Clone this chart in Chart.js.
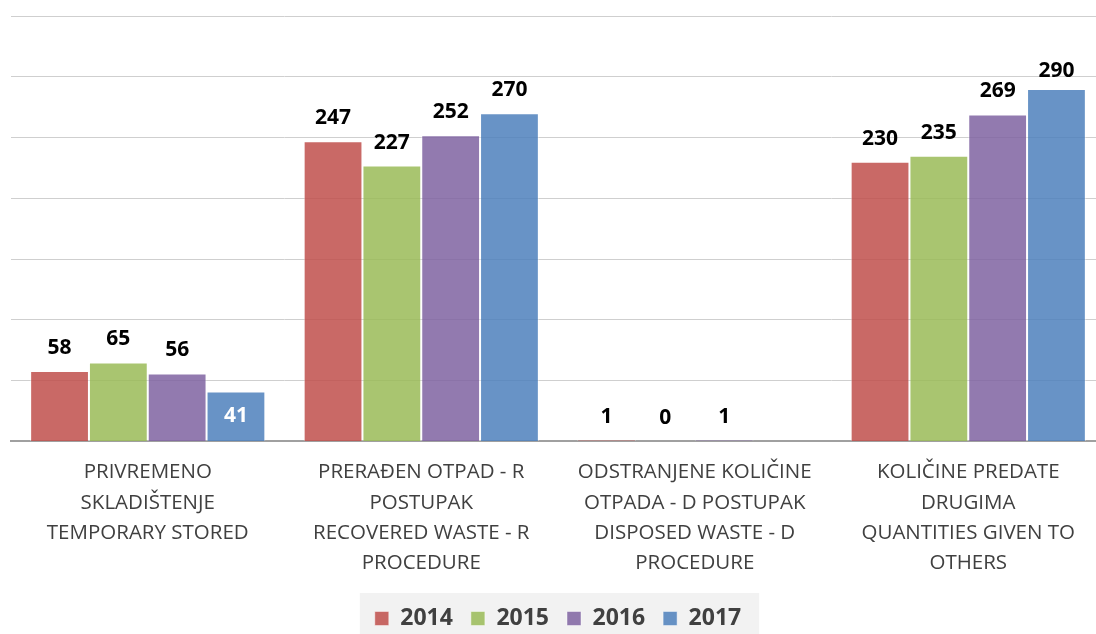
<!DOCTYPE html>
<html>
<head>
<meta charset="utf-8">
<script src="https://cdn.jsdelivr.net/npm/chart.js@4.4.1/dist/chart.umd.min.js"></script>
<style>
  html, body { margin: 0; padding: 0; background: #fff; overflow: hidden; }
  #wrap { width: 1106px; height: 634px; }
</style>
</head>
<body>
<div id="wrap"><canvas id="c" width="1106" height="634"></canvas></div>
<script>
// categories (multi-line, Serbian + English)
const categories = [
    ["PRIVREMENO", "SKLADIŠTENJE", "TEMPORARY STORED"],
    ["PRERAĐEN OTPAD - R", "POSTUPAK", "RECOVERED WASTE - R", "PROCEDURE"],
    ["ODSTRANJENE KOLIČINE", "OTPADA - D POSTUPAK", "DISPOSED WASTE - D", "PROCEDURE"],
    ["KOLIČINE PREDATE", "DRUGIMA", "QUANTITIES GIVEN TO", "OTHERS"]
];
const years = ["2014", "2015", "2016", "2017"];
const values2014 = [58, 247, 1, 230];
const values2015 = [65, 227, 0, 235];
const values2016 = [56, 252, 1, 269];
const values2017 = [41, 270, null, 290];

const colors = ["rgba(192,80,77,0.86)", "rgba(155,187,89,0.86)", "rgba(128,100,162,0.86)", "rgba(79,129,189,0.86)"];

// label drawn inside the bar in white (dataset, index)
const insideLabels = [[3, 0]];

const valueLabels = {
    id: 'valueLabels',
    afterDatasetsDraw(chart) {
        const ctx = chart.ctx;
        ctx.save();
        ctx.font = "bold 21px 'Open Sans'";
        ctx.textAlign = 'center';
        chart.data.datasets.forEach((ds, di) => {
            chart.getDatasetMeta(di).data.forEach((bar, i) => {
                const v = ds.data[i];
                if (v === null || v === undefined) return;
                const inside = insideLabels.some(p => p[0] === di && p[1] === i);
                if (inside) {
                    ctx.fillStyle = '#fff';
                    ctx.textBaseline = 'middle';
                    ctx.fillText(v, bar.x, (bar.y + bar.base) / 2);
                } else {
                    ctx.fillStyle = '#000';
                    ctx.textBaseline = 'alphabetic';
                    ctx.fillText(v, bar.x, Math.max(bar.y - 17, 77));
                }
            });
        });
        ctx.restore();
    }
};

const legendBg = {
    id: 'legendBg',
    beforeDraw(chart) {
        const boxes = chart.legend.legendHitBoxes;
        if (!boxes || !boxes.length) return;
        const left = boxes[0].left - 15;
        const last = boxes[boxes.length - 1];
        const right = last.left + last.width + 18;
        const ctx = chart.ctx;
        ctx.save();
        ctx.fillStyle = '#f2f2f2';
        ctx.fillRect(left, 593, right - left, 41);
        ctx.restore();
    }
};

new Chart(document.getElementById('c'), {
    type: 'bar',
    data: {
        labels: categories,
        datasets: [values2014, values2015, values2016, values2017].map((d, i) => ({
            label: years[i],
            data: d,
            backgroundColor: colors[i],
            borderColor: 'rgba(255,255,255,0.45)',
            borderWidth: 1,
            categoryPercentage: 0.86,
            barPercentage: 1
        }))
    },
    options: {
        responsive: false,
        animation: false,
        layout: { padding: { left: 11, right: 1, top: 16, bottom: -6 } },
        plugins: {
            tooltip: { enabled: false },
            legend: {
                position: 'bottom',
                labels: {
                    boxWidth: 14, boxHeight: 14, padding: 18,
                    color: '#404040',
                    font: { family: "'Open Sans'", size: 23, weight: 'bold' }
                }
            }
        },
        scales: {
            y: {
                display: true,
                min: 0, max: 350,
                ticks: { display: false, stepSize: 50 },
                grid: { color: '#cfcfcf', lineWidth: 1, drawTicks: false },
                border: { display: false }
            },
            x: {
                grid: { display: false, drawTicks: false },
                border: { display: true, color: '#a0a0a0', width: 2 },
                afterFit(scale) { scale.height -= 5; },
                ticks: {
                    autoSkip: false, maxRotation: 0, padding: 16,
                    color: '#404040',
                    font: { family: "'Open Sans'", size: 20.5, lineHeight: 1.47 }
                }
            }
        }
    },
    plugins: [legendBg, valueLabels]
});
</script>
</body>
</html>
